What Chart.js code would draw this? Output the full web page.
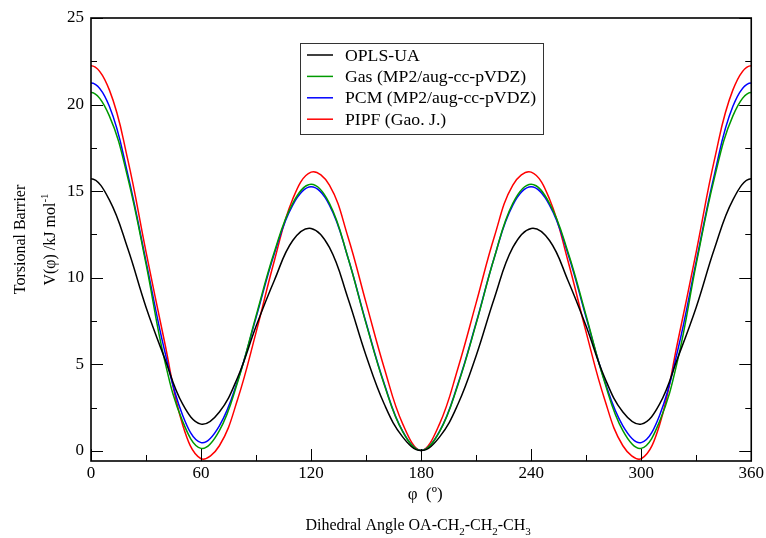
<!DOCTYPE html>
<html>
<head>
<meta charset="utf-8">
<script src="https://cdn.jsdelivr.net/npm/chart.js@4.4.1/dist/chart.umd.min.js"></script>
<style>
  html, body { margin: 0; padding: 0; background: #fff; }
  #wrap { width: 766px; height: 538px; }
</style>
</head>
<body>
<div id="wrap"><canvas id="torsion"></canvas></div>
<script>
// angulo diedro (grados); -10 y 370 solo para que la curva periodica entre plana en los bordes
const angles = [-10, 0, 10, 20, 30, 40, 50, 60, 70, 80, 90, 100, 110, 120, 130, 140, 150, 160, 170, 180,
                190, 200, 210, 220, 230, 240, 250, 260, 270, 280, 290, 300, 310, 320, 330, 340, 350, 360, 370];

// V(phi) en kJ/mol
const oplsUA = [14.5, 15.72, 14.5, 11.7, 8.3, 5.4, 2.7, 1.55, 2.25, 4.26, 7.2, 9.86, 12.15, 12.85, 11.75, 8.85, 5.5, 2.68, 0.8, 0.02,
                0.8, 2.68, 5.5, 8.85, 11.75, 12.85, 12.15, 9.86, 7.2, 4.26, 2.25, 1.55, 2.7, 5.4, 8.3, 11.7, 14.5, 15.72, 14.5];
const gasMP2 = [19.35, 20.7, 19.35, 15.8, 10.8, 5.3, 1.7, 0.15, 1.17, 4.0, 7.8, 11.5, 14.3, 15.4, 14.3, 11.2, 7.35, 3.8, 1.1, 0.02,
                1.1, 3.8, 7.35, 11.2, 14.3, 15.4, 14.3, 11.5, 7.8, 4.0, 1.17, 0.15, 1.7, 5.3, 10.8, 15.8, 19.35, 20.7, 19.35];
const pcmMP2 = [19.9, 21.25, 19.9, 16.0, 10.95, 5.85, 2.05, 0.48, 1.45, 4.07, 7.7, 11.4, 14.2, 15.25, 14.2, 11.2, 7.4, 3.85, 1.13, 0.03,
                1.13, 3.85, 7.4, 11.2, 14.2, 15.25, 14.2, 11.4, 7.7, 4.07, 1.45, 0.48, 2.05, 5.85, 10.95, 16.0, 19.9, 21.25, 19.9];
const pipfGao = [20.85, 22.25, 20.85, 16.85, 11.5, 6.35, 1.5, -0.45, 0.3, 3.0, 6.85, 11.0, 14.55, 16.1, 15.35, 12.4, 8.55, 4.75, 1.55, 0.03,
                 1.55, 4.75, 8.55, 12.4, 15.35, 16.1, 14.55, 11.0, 6.85, 3.0, 0.3, -0.45, 1.5, 6.35, 11.5, 16.85, 20.85, 22.25, 20.85];

const seriesLabels = ['OPLS-UA', 'Gas (MP2/aug-cc-pVDZ)', 'PCM (MP2/aug-cc-pVDZ)', 'PIPF (Gao. J.)'];
const seriesColors = ['#000000', '#009a00', '#0000ff', '#ff0000'];

const xLabelTicks = [0, 60, 120, 180, 240, 300, 360];
const xMarks = [0, 30, 60, 90, 120, 150, 180, 210, 240, 270, 300, 330, 360];
const yLabelTicks = [0, 5, 10, 15, 20, 25];
const yMarks = [0, 2.5, 5, 7.5, 10, 12.5, 15, 17.5, 20, 22.5, 25];

const SERIF = '"Liberation Serif", "Times New Roman", serif';

function pts(vals) {
    return angles.map((a, i) => ({ x: a, y: vals[i] }));
}

// marco y marcas hacia adentro (estilo xmgrace)
const framePlugin = {
    id: 'frame',
    afterDraw(chart) {
        const { ctx, chartArea: a, scales } = chart;
        ctx.save();
        ctx.strokeStyle = '#000';
        ctx.lineWidth = 1.6;
        ctx.strokeRect(a.left, a.top, a.right - a.left, a.bottom - a.top);
        ctx.lineWidth = 1;
        ctx.beginPath();
        xMarks.forEach(v => {
            const px = Math.round(scales.x.getPixelForValue(v)) + 0.5;
            const len = v % 60 === 0 ? 12 : 6;
            ctx.moveTo(px, a.bottom);
            ctx.lineTo(px, a.bottom - len);
        });
        yMarks.forEach(v => {
            const py = Math.round(scales.y.getPixelForValue(v)) + 0.5;
            const len = v % 5 === 0 ? 12 : 6;
            ctx.moveTo(a.left, py);
            ctx.lineTo(a.left + len, py);
            ctx.moveTo(a.right, py);
            ctx.lineTo(a.right - len, py);
        });
        ctx.stroke();
        ctx.restore();
    }
};

// leyenda dentro del area
const legendBox = {
    id: 'legendBox',
    afterDraw(chart) {
        const ctx = chart.ctx;
        ctx.save();
        ctx.fillStyle = '#fff';
        ctx.fillRect(300, 43, 243, 91);
        ctx.strokeStyle = '#333';
        ctx.lineWidth = 1;
        ctx.strokeRect(300.5, 43.5, 243, 91);
        ctx.font = '17.7px ' + SERIF;
        ctx.textBaseline = 'middle';
        chart.data.datasets.forEach((ds, i) => {
            const yy = 55 + i * 21.4;
            ctx.strokeStyle = ds.borderColor;
            ctx.lineWidth = 1.5;
            ctx.beginPath();
            ctx.moveTo(307, yy);
            ctx.lineTo(333, yy);
            ctx.stroke();
            ctx.fillStyle = '#000';
            ctx.fillText(ds.label, 345, yy + 1);
        });
        ctx.restore();
    }
};

// titulos de ejes con sub/superindices
function drawRuns(ctx, runs, cx, baseY, size) {
    let total = 0;
    runs.forEach(r => {
        ctx.font = (r.sub || r.sup ? Math.round(size * 0.68) : size) + 'px ' + SERIF;
        r.w = ctx.measureText(r.t).width;
        total += r.w;
    });
    let x = cx - total / 2;
    runs.forEach(r => {
        ctx.font = (r.sub || r.sup ? Math.round(size * 0.68) : size) + 'px ' + SERIF;
        const dy = r.sub ? size * 0.3 : (r.sup ? -size * 0.42 : 0);
        ctx.fillText(r.t, x, baseY + dy);
        x += r.w;
    });
}

const axisTitles = {
    id: 'axisTitles',
    afterDraw(chart) {
        const { ctx, chartArea: a } = chart;
        const cx = (a.left + a.right) / 2;
        const cy = (a.top + a.bottom) / 2;
        ctx.save();
        ctx.fillStyle = '#000';
        ctx.textBaseline = 'alphabetic';
        drawRuns(ctx, [{ t: 'φ  (º)' }], cx + 4, 499, 17);
        drawRuns(ctx, [{ t: 'Dihedral Angle OA-CH' }, { t: '2', sub: true }, { t: '-CH' }, { t: '2', sub: true },
                       { t: '-CH' }, { t: '3', sub: true }], cx - 3, 530, 16);
        ctx.translate(0, cy);
        ctx.rotate(-Math.PI / 2);
        drawRuns(ctx, [{ t: 'Torsional Barrier' }], 0, 25, 16);
        drawRuns(ctx, [{ t: 'V(φ) /kJ mol' }, { t: '-1', sup: true }], 0, 55, 16);
        ctx.restore();
    }
};

const datasets = [oplsUA, gasMP2, pcmMP2, pipfGao].map((vals, i) => ({
    label: seriesLabels[i],
    data: pts(vals),
    borderColor: seriesColors[i],
    backgroundColor: seriesColors[i],
    borderWidth: 1.5,
    pointRadius: 0,
    tension: 0.4,
    fill: false
}));

new Chart(document.getElementById('torsion'), {
    type: 'line',
    data: { datasets },
    options: {
        responsive: true,
        maintainAspectRatio: false,
        animation: false,
        layout: { padding: { left: 0, top: 18, right: 14, bottom: 0 } },
        plugins: {
            legend: { display: false },
            tooltip: { enabled: false }
        },
        scales: {
            x: {
                type: 'linear',
                min: 0,
                max: 360,
                afterBuildTicks: (s) => { s.ticks = xLabelTicks.map(v => ({ value: v })); },
                afterFit: (s) => { s.height = 77; },
                grid: { display: false, drawTicks: false },
                border: { display: false },
                ticks: { color: '#000', padding: 2, maxRotation: 0, font: { family: SERIF, size: 17 } }
            },
            y: {
                min: -0.58,
                max: 25,
                afterBuildTicks: (s) => { s.ticks = yLabelTicks.map(v => ({ value: v })); },
                afterFit: (s) => { s.width = 91; },
                grid: { display: false, drawTicks: false },
                border: { display: false },
                ticks: { color: '#000', padding: 7, font: { family: SERIF, size: 17 } }
            }
        }
    },
    plugins: [framePlugin, legendBox, axisTitles]
});
</script>
</body>
</html>
